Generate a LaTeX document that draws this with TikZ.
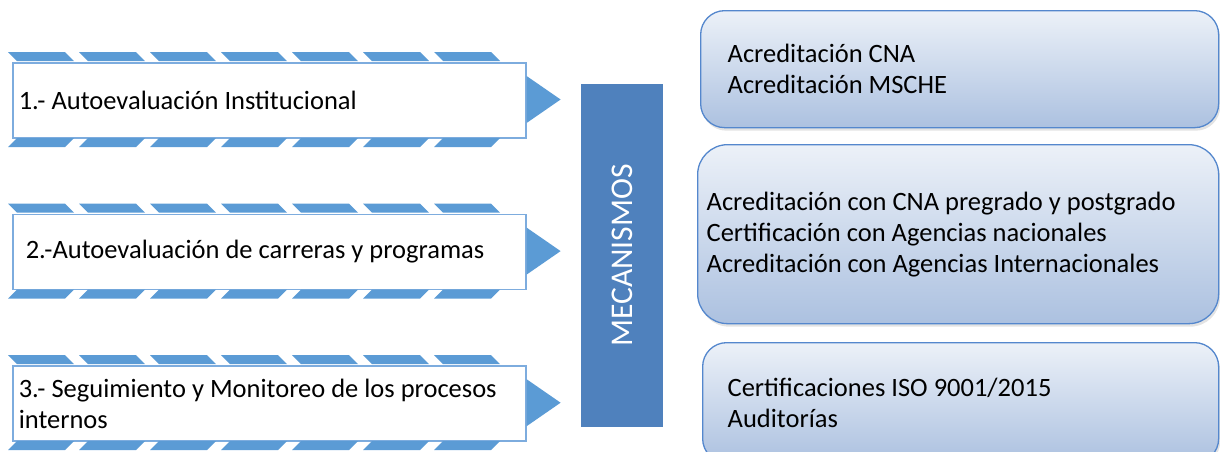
\documentclass[tikz,border=0pt]{standalone}
\usepackage{fontspec}
\setmainfont{Carlito}
\usetikzlibrary{positioning,shadows}

\definecolor{stripeblue}{RGB}{91,155,213}
\definecolor{edgeblue}{RGB}{125,172,222}
\definecolor{mecblue}{RGB}{79,129,189}
\definecolor{topgrad}{RGB}{236,241,248}
\definecolor{botgrad}{RGB}{172,193,224}
\definecolor{roundedge}{RGB}{84,135,205}

\begin{document}
\begin{tikzpicture}[x=1pt,y=-1pt]
\tikzstyle{stage}=[rectangle, draw=edgeblue, line width=1.6pt, fill=white, minimum width=513pt, minimum height=75pt, inner xsep=6pt, text width=501pt, align=flush left, anchor=north west, font=\fontsize{26.5}{31}\selectfont]
\tikzstyle{stripe}=[fill=stripeblue]
\tikzstyle{mech}=[rectangle, fill=mecblue, minimum width=82pt, minimum height=343pt, inner sep=0pt, text=white, font=\fontsize{31.6}{36}\selectfont]
\tikzstyle{result}=[rectangle, rounded corners=24pt, draw=roundedge, line width=1.3pt, top color=topgrad, bottom color=botgrad, drop shadow={opacity=0.22, shadow xshift=1.5pt, shadow yshift=-3pt}, anchor=north west, align=flush left, font=\fontsize{26.5}{31}\selectfont]

\useasboundingbox (0,0) rectangle (1220,451);
\clip (0,0) rectangle (1220,451);

  \node[stage] (inst) at (12,62) {1.- Autoevaluación Institucional};
  \node[stage, inner xsep=13pt, text width=487pt] (carr) [below=75pt of inst] {2.-Autoevaluación de carreras y programas};
  \node[stage] (proc) [below=75pt of carr] {3.- Seguimiento y Monitoreo de los procesos\\internos};

\foreach \n in {inst,carr,proc}{
  \begin{scope}[shift={(\n.north west)}]
    \foreach \i in {0,...,6}{
      \fill[stripe] (-4+71*\i,-10) -- ++(57,0) -- ++(9,9) -- ++(-57,0) -- cycle;
      \fill[stripe] (-4+71*\i,85) -- ++(57,0) -- ++(9,-9) -- ++(-57,0) -- cycle;
    }
  \end{scope}
  \fill[stripe] (\n.north east) ++(0,14) -- ++(34,23.5) -- ++(-34,23.5) -- cycle;
}

  \node[mech] (mec) at (622,255.5) {\rotatebox{90}{MECANISMOS}};

  \node[result, minimum width=518pt, minimum height=117pt, inner xsep=27pt, text width=464pt] (acr) at (700,10) {Acreditación CNA\\Acreditación MSCHE};
  \node[result, rounded corners=30pt, minimum width=521pt, minimum height=179pt, inner xsep=9pt, text width=503pt] (cert) at (697,144) {Acreditación con CNA pregrado y postgrado\\Certificación con Agencias nacionales\\Acreditación con Agencias Internacionales};
  \node[result, minimum width=516pt, minimum height=120pt, inner xsep=25pt, text width=466pt] (iso) at (702,342) {Certificaciones ISO 9001/2015\\Auditorías};
\end{tikzpicture}
\end{document}
